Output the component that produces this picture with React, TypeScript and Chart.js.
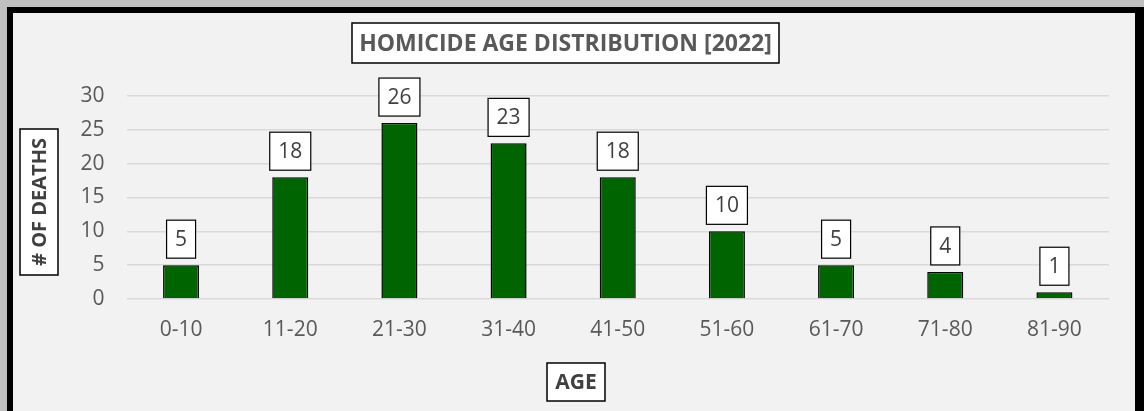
import React, { useEffect, useRef } from "react";
import { Chart, registerables } from "chart.js";

Chart.register(...registerables);

const categories = ["0-10", "11-20", "21-30", "31-40", "41-50", "51-60", "61-70", "71-80", "81-90"];
const deaths = [5, 18, 26, 23, 18, 10, 5, 4, 1];
const yTicks = [0, 5, 10, 15, 20, 25, 30];
const chartTitle = "HOMICIDE AGE DISTRIBUTION [2022]";
const xTitle = "AGE";
const yTitle = "# OF DEATHS";

const FONT = "'Open Sans', sans-serif";

function boxedText(ctx: CanvasRenderingContext2D, text: string, cx: number, cy: number, w: number, h: number, font: string, color: string, rotate = false) {
  ctx.save();
  ctx.translate(cx, cy);
  if (rotate) ctx.rotate(-Math.PI / 2);
  ctx.fillStyle = "#ffffff";
  ctx.fillRect(-w / 2, -h / 2, w, h);
  ctx.strokeStyle = "#000000";
  ctx.lineWidth = 1.5;
  ctx.strokeRect(-w / 2, -h / 2, w, h);
  ctx.font = font;
  ctx.fillStyle = color;
  ctx.textAlign = "center";
  ctx.textBaseline = "middle";
  ctx.fillText(text, 0, 1);
  ctx.restore();
}

const framePlugin = {
  id: "frame",
  beforeDraw(chart: any) {
    const ctx = chart.ctx as CanvasRenderingContext2D;
    const W = chart.width, H = chart.height;
    ctx.save();
    ctx.fillStyle = "#bfbfbf";
    ctx.fillRect(0, 0, W, H);
    ctx.fillStyle = "#000000";
    ctx.fillRect(7, 7, W - 7, H - 7);
    ctx.fillStyle = "#f2f2f2";
    ctx.fillRect(13, 13, 1135 - 13, H - 13);
    ctx.restore();
  },
  afterDraw(chart: any) {
    const ctx = chart.ctx as CanvasRenderingContext2D;
    boxedText(ctx, chartTitle, 565.5, 43, 427, 40, `bold 23px ${FONT}`, "#595959");
    boxedText(ctx, xTitle, 576, 382, 58, 38, `bold 21px ${FONT}`, "#404040");
    boxedText(ctx, yTitle, 39, 202, 146, 38, `bold 20px ${FONT}`, "#404040", true);
  },
};

const labelPlugin = {
  id: "barLabels",
  afterDatasetsDraw(chart: any) {
    const ctx = chart.ctx as CanvasRenderingContext2D;
    const meta = chart.getDatasetMeta(0);
    const data = chart.data.datasets[0].data as number[];
    ctx.save();
    ctx.font = `21px ${FONT}`;
    meta.data.forEach((el: any, i: number) => {
      const text = String(data[i]);
      const tw = ctx.measureText(text).width;
      const w = tw + 17;
      const h = 38;
      const bottom = el.y - 7;
      const x = el.x;
      ctx.fillStyle = "#ffffff";
      ctx.fillRect(x - w / 2, bottom - h, w, h);
      ctx.strokeStyle = "#000000";
      ctx.lineWidth = 1.2;
      ctx.strokeRect(x - w / 2, bottom - h, w, h);
      ctx.fillStyle = "#404040";
      ctx.textAlign = "center";
      ctx.textBaseline = "middle";
      ctx.fillText(text, x, bottom - h / 2 + 1);
    });
    ctx.restore();
  },
};

export default function App() {
  const ref = useRef<HTMLCanvasElement | null>(null);
  useEffect(() => {
    document.body.style.margin = "0";
    if (!ref.current) return;
    const chart = new Chart(ref.current, {
      type: "bar",
      data: {
        labels: categories,
        datasets: [
          {
            data: deaths,
            backgroundColor: "#006400",
            borderColor: "#000000",
            borderWidth: 1.5,
            categoryPercentage: 1,
            barPercentage: 0.33,
          },
        ],
      },
      options: {
        responsive: false,
        animation: false,
        devicePixelRatio: 1,
        layout: { padding: { left: 0, right: 35, top: 96, bottom: 0 } },
        plugins: { legend: { display: false }, tooltip: { enabled: false }, title: { display: false } },
        scales: {
          x: {
            grid: { display: false },
            border: { display: false },
            ticks: { color: "#595959", font: { family: FONT, size: 21 }, padding: 10 },
            afterFit(scale: any) {
              scale.height = 112;
            },
          },
          y: {
            min: 0,
            max: 30,
            afterBuildTicks(scale: any) {
              scale.ticks = yTicks.map((v) => ({ value: v }));
            },
            grid: { color: "#d9d9d9", lineWidth: 1.5, drawTicks: false },
            border: { display: false },
            ticks: { color: "#595959", font: { family: FONT, size: 21 }, padding: 22 },
            afterFit(scale: any) {
              scale.width = 126.5;
            },
          },
        },
      },
      plugins: [framePlugin, labelPlugin],
    });
    return () => chart.destroy();
  }, []);
  return (
    <div style={{ position: "fixed", left: 0, top: 0, width: 1144, height: 411 }}>
      <canvas ref={ref} width={1144} height={411} />
    </div>
  );
}
